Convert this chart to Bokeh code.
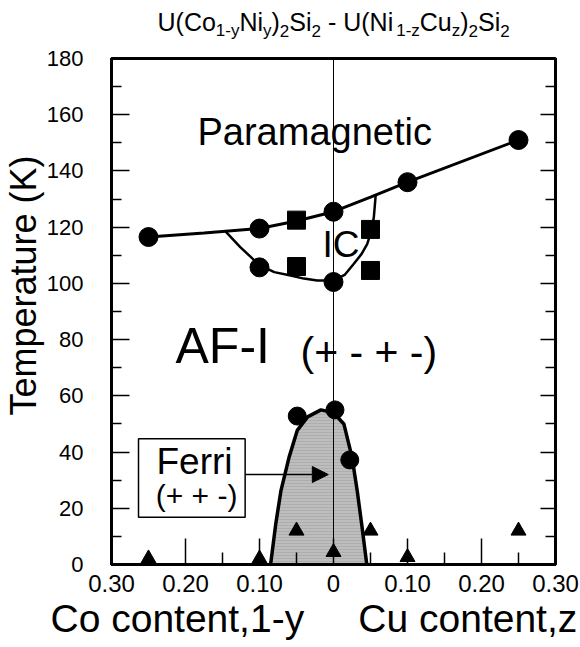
import math
from bokeh.plotting import figure
from bokeh.layouts import column
from bokeh.models import (Label, Arrow, NormalHead, FixedTicker, CustomJSTickFormatter,
                          LinearAxis, Range1d, Title)
from bokeh.core.properties import value
from bokeh.embed import file_html
from bokeh.resources import INLINE

FONT = "Liberation Sans"

# ---------------- data ----------------
# x < 0 : Co content (1-y), x > 0 : Cu content (z)
pm_x = [-0.25, -0.10, 0.0, 0.10, 0.25]
pm_t = [116.5, 119.5, 125.5, 136.0, 151.0]

pm_line_x = [-0.256, -0.25, -0.175, -0.10, -0.05, 0.0, 0.05, 0.10, 0.25]
pm_line_t = [116.3, 116.5, 117.9, 119.5, 122.2, 125.5, 130.7, 136.0, 151.0]

ic_low_x = [-0.10, 0.0]
ic_low_t = [105.7, 100.5]

ic_sq_x = [-0.05, -0.05, 0.05, 0.05]
ic_sq_t = [122.5, 106.0, 119.2, 104.6]

ic_bound_x = [-0.146, -0.126, -0.10, -0.08, -0.058, -0.04, -0.022, 0.0, 0.015,
              0.0275, 0.038, 0.0455, 0.051, 0.0545, 0.057]
ic_bound_t = [118.5, 112.9, 106.5, 104.0, 102.8, 101.7, 101.0, 101.0, 103.0,
              107.0, 110.5, 114.0, 118.5, 123.5, 131.3]

ferri_x = [-0.049, 0.002, 0.022]
ferri_t = [52.8, 55.0, 37.2]

dome_x = [-0.085, -0.078, -0.071, -0.060, -0.049, -0.035, -0.017, 0.0, 0.014,
          0.025, 0.032, 0.038, 0.045]
dome_t = [0.0, 14.5, 26.3, 38.2, 47.7, 52.5, 55.0, 54.0, 50.0, 38.2, 26.3, 14.5, 0.0]

tri_x = [-0.25, -0.10, -0.05, 0.0, 0.05, 0.10, 0.25]
tri_t = [2.1, 2.1, 12.0, 4.4, 12.0, 2.6, 12.0]

zero_line_x = [0.0, 0.0]
zero_line_t = [0.0, 180.0]

x_ticks = [-0.3, -0.2, -0.1, 0.0, 0.1, 0.2, 0.3]
x_minor = [-0.25, -0.15, -0.05, 0.05, 0.15, 0.25]
y_ticks = [0, 20, 40, 60, 80, 100, 120, 140, 160, 180]
y_minor = [10, 30, 50, 70, 90, 110, 130, 150, 170]

title_parts = ["U(Co", "1-y", "Ni", "y", ")", "2", "Si", "2", "-", "U(Ni", "1-z",
               "Cu", "z", ")", "2", "Si", "2"]
title_is_sub = [False, True, False, True, False, True, False, True, False, False, True,
                False, True, False, True, False, True]

# layout constants (pixels)
FRAME_L, FRAME_R_BORDER = 111, 25
TOP_H = 46

# ---------------- title strip (separate figure, pixel coordinates) ----------------
tp = figure(width=580, height=TOP_H, x_range=Range1d(FRAME_L, 580 - FRAME_R_BORDER),
            y_range=Range1d(TOP_H, 0), x_axis_type=None, y_axis_type=None,
            output_backend="svg", toolbar_location=None,
            min_border_left=FRAME_L, min_border_right=FRAME_R_BORDER,
            min_border_top=0, min_border_bottom=0)
tp.outline_line_color = None
tp.xgrid.visible = False
tp.ygrid.visible = False

W = {'U': 722, '(': 333, ')': 333, 'C': 722, 'o': 556, 'N': 722, 'i': 222, 'S': 667,
     ' ': 278, '-': 333, '1': 556, 'y': 500, 'z': 500, 'u': 556, '2': 556}
F, f = 25, 17
gaps_after = {7: F * 0.278, 8: F * 0.278, 9: 3}
cursor = 157.0
bx, by, bt, sx, sy, st = [], [], [], [], [], []
for i, (txt, sub) in enumerate(zip(title_parts, title_is_sub)):
    sz = f if sub else F
    if sub:
        sx.append(cursor); sy.append(30.0); st.append(txt)
    else:
        bx.append(cursor); by.append(21.5); bt.append(txt)
    cursor += sum(W[c] for c in txt) * sz / 1000.0 + gaps_after.get(i, 0)
tp.text(bx, by, text=bt, text_font=value(FONT), text_font_size=value(f"{F}px"),
        text_align="left", text_baseline="alphabetic", text_color="black")
tp.text(sx, sy, text=st, text_font=value(FONT), text_font_size=value(f"{f}px"),
        text_align="left", text_baseline="alphabetic", text_color="black")

# ---------------- main figure ----------------
p = figure(width=580, height=647 - TOP_H, x_range=Range1d(-0.30, 0.30), y_range=Range1d(0, 180),
           output_backend="svg", toolbar_location=None,
           min_border_left=FRAME_L, min_border_right=FRAME_R_BORDER,
           min_border_top=58 - TOP_H, min_border_bottom=83)
p.xgrid.visible = False
p.ygrid.visible = False
p.outline_line_color = "black"
p.outline_line_width = 3
p.background_fill_color = "white"
p.border_fill_color = "white"

xa = p.xaxis[0]
xa.ticker = FixedTicker(ticks=x_ticks, minor_ticks=x_minor)
xa.formatter = CustomJSTickFormatter(code="return Math.abs(tick) < 1e-9 ? '0' : Math.abs(tick).toFixed(2);")
xa.major_tick_in = 26
xa.major_tick_out = 0
xa.minor_tick_in = 12
xa.minor_tick_out = 0
xa.axis_line_width = 3
xa.major_tick_line_width = 1.5
xa.minor_tick_line_width = 1.5
xa.major_label_text_font = FONT
xa.major_label_text_font_size = "24px"
xa.major_label_text_color = "black"
xa.major_label_standoff = 10

ya = p.yaxis[0]
ya.ticker = FixedTicker(ticks=y_ticks, minor_ticks=y_minor)
ya.major_tick_in = 18
ya.major_tick_out = 0
ya.minor_tick_in = 10
ya.minor_tick_out = 0
ya.axis_line_width = 3
ya.major_tick_line_width = 1.5
ya.minor_tick_line_width = 1.5
ya.major_label_text_font = FONT
ya.major_label_text_font_size = "22px"
ya.major_label_text_color = "black"
ya.major_label_standoff = 28

ra = LinearAxis(ticker=FixedTicker(ticks=y_ticks, minor_ticks=y_minor),
                formatter=CustomJSTickFormatter(code="return '';"))
ra.major_tick_in = 15
ra.major_tick_out = 0
ra.minor_tick_in = 10
ra.minor_tick_out = 0
ra.axis_line_width = 3
ra.major_tick_line_width = 1.5
ra.minor_tick_line_width = 1.5
ra.major_label_standoff = 0
ra.major_label_text_font_size = "1px"
p.add_layout(ra, "right")

# axis titles as side titles
p.add_layout(Title(text="Temperature (K)", align="left", offset=149, standoff=0,
                   text_font=FONT, text_font_size="36px", text_font_style="normal",
                   text_color="black"), "left")
p.add_layout(Title(text="Co content,1-y" + "\u00a0" * 5 + "Cu content,z", align="left",
                   offset=-61, standoff=0, text_font=FONT, text_font_size="39px",
                   text_font_style="normal", text_color="black"), "below")

# ---------------- glyphs ----------------
p.patch(dome_x, dome_t, fill_color="#bdbdbd", line_color=None,
        hatch_pattern="horizontal_line", hatch_color="#a8a8a8", hatch_scale=3, hatch_weight=0.8)
p.line(zero_line_x, zero_line_t, line_color="black", line_width=1)
p.line(dome_x, dome_t, line_color="black", line_width=3.5)
p.line(pm_line_x, pm_line_t, line_color="black", line_width=3)
p.line(ic_bound_x, ic_bound_t, line_color="black", line_width=2.5)

p.scatter(pm_x, pm_t, marker="circle", size=19, fill_color="black", line_color="black")
p.scatter(ic_low_x, ic_low_t, marker="circle", size=19, fill_color="black", line_color="black")
p.scatter(ic_sq_x, ic_sq_t, marker="square", size=18, fill_color="black", line_color="black")
p.scatter(ferri_x, ferri_t, marker="circle", size=18, fill_color="black", line_color="black")
p.scatter(tri_x, tri_t, marker="triangle", size=15, fill_color="black", line_color="black")

# Ferri box and arrow
box_left, box_right, box_bottom, box_top = -0.2635, -0.1194, 16.8, 44.7
p.quad(left=[box_left], right=[box_right], bottom=[box_bottom], top=[box_top],
       fill_color="white", line_color="black", line_width=1.5)
p.add_layout(Arrow(end=NormalHead(size=16, fill_color="black", line_color="black"),
                   x_start=box_right, y_start=32.0, x_end=-0.007, y_end=32.0,
                   line_color="black", line_width=1.5))

# ---------------- in-plot texts (y = vertical centre of the capitals) ----------------
def lab(x, y, text, size, align="left"):
    p.add_layout(Label(x=x, y=y, text=text, text_font=FONT, text_font_size=f"{size}px",
                       text_align=align, text_baseline="alphabetic", text_color="black"))

lab(-0.1838, 153.9, "Paramagnetic", 38)
lab(-0.0149, 113.7, "IC", 37)
lab(-0.2135, 77.7, "AF-I", 50)
lab(-0.0446, 75.6, "(+ - + -)", 41)
lab(-0.1878, 36.8, "Ferri", 37, align="center")
lab(-0.185, 24.6, "(+ + -)", 30, align="center")

layout = column(tp, p, spacing=0)
open("out.html", "w").write(file_html(layout, INLINE))
